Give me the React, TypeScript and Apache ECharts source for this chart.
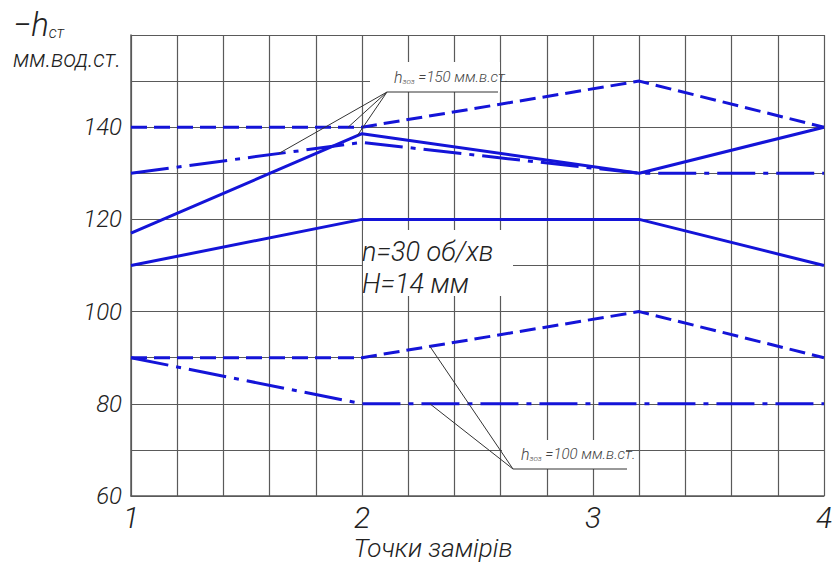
import React, { useEffect, useRef } from "react";
import * as echarts from "echarts";

// ---- data ----
const pointLabels = ["1", "2", "3", "4"];
const labelPositions = [0, 5, 10, 15];
const pointPositions = [0, 5, 11, 15];
const upperDashed = [140, 140, 150, 140];
const upperDashDot = [130, 136.7, 130, 130];
const upperSolid = [117, 138.6, 130, 140];
const middleSolid = [110, 120, 120, 110];
const lowerDashed = [90, 90, 100, 90];
const lowerDashDot = [90, 80, 80, 80];
const yTickLabels = [60, 80, 100, 120, 140];
// leader line targets (x index, value) for the two annotations
const leader150Targets = [
  [3.2, 134.3],
  [4.7, 140],
  [4.9, 138.2],
];
const leader100Targets = [
  [6.47, 92.45],
  [6.47, 80],
];

const BLUE = "#1414d8";
const GRID = "#5a5a5a";
const TXT = "#222";
const FONT = "Roboto, 'DejaVu Sans', sans-serif";
const DASHED = [16, 7];
const DASHDOT = [38, 8, 5, 8];

export default function App() {
  const ref = useRef<HTMLDivElement>(null);
  useEffect(() => {
    const chart = echarts.init(ref.current!, null, { renderer: "svg" });
    const mk = (vals: number[]) => vals.map((v, i) => [pointPositions[i], v]);
    const line = (name: string, vals: number[], type: any) => ({
      type: "line",
      name,
      data: mk(vals),
      symbol: "none",
      silent: true,
      z: 3,
      lineStyle: { color: BLUE, width: 3, type },
    });
    chart.setOption({
      animation: false,
      grid: { left: 131, right: 8, top: 35, bottom: 75, outerBoundsMode: "none", containLabel: false },
      xAxis: {
        type: "value",
        min: 0,
        max: 15,
        interval: 1,
        axisLine: { show: true, lineStyle: { color: GRID, width: 1.5 } },
        axisTick: { show: false },
        splitLine: { show: true, lineStyle: { color: GRID, width: 1.2 } },
        axisLabel: {
          showMinLabel: true,
          showMaxLabel: true,
          margin: 6,
          color: TXT,
          fontFamily: FONT,
          fontStyle: "italic",
          fontWeight: 300,
          fontSize: 30,
          formatter: (v: number) => {
            const i = labelPositions.indexOf(v);
            return i >= 0 ? pointLabels[i] : "";
          },
        },
      },
      yAxis: {
        type: "value",
        min: 60,
        max: 160,
        interval: 10,
        axisLine: { show: true, lineStyle: { color: GRID, width: 1.5 } },
        axisTick: { show: false },
        splitLine: { show: true, lineStyle: { color: GRID, width: 1.2 } },
        axisLabel: {
          showMinLabel: true,
          showMaxLabel: true,
          margin: 9,
          color: TXT,
          fontFamily: FONT,
          fontStyle: "italic",
          fontWeight: 300,
          fontSize: 24,
          formatter: (v: number) => (yTickLabels.includes(v) ? String(v) : ""),
        },
      },
      series: [
        line("upperDashed", upperDashed, DASHED),
        line("upperDashDot", upperDashDot, DASHDOT),
        line("upperSolid", upperSolid, "solid"),
        line("middleSolid", middleSolid, "solid"),
        line("lowerDashed", lowerDashed, DASHED),
        line("lowerDashDot", lowerDashDot, DASHDOT),
      ],
    });

    const px = (pt: number[]) => chart.convertToPixel({ gridIndex: 0 }, pt) as number[];
    const leader = (from: number[], to: number[]) => ({
      type: "line",
      silent: true,
      z: 10,
      shape: { x1: from[0], y1: from[1], x2: to[0], y2: to[1] },
      style: { stroke: "#333", lineWidth: 1 },
    });
    const txt = (text: string, x: number, y: number, size: number, extra: any = {}) => ({
      type: "text",
      silent: true,
      z: 12,
      x,
      y,
      style: {
        text,
        fill: extra.fill || TXT,
        font: `italic 300 ${size}px ${FONT}`,
        verticalAlign: "middle",
        align: extra.align || "left",
      },
    });
    const richTxt = (h: string, sub: string, rest: string, x: number, y: number, size: number, subSize: number, subDrop: number, fill: string) => ({
      type: "text",
      silent: true,
      z: 12,
      x,
      y,
      style: {
        text: `{a|${h}}{b|${sub}}{c|${rest}}`,
        verticalAlign: "middle",
        align: "left",
        rich: {
          a: { fontFamily: FONT, fontStyle: "italic", fontWeight: 300, fontSize: size, fill, color: fill },
          b: { fontFamily: FONT, fontStyle: "italic", fontWeight: 300, fontSize: subSize, fill, color: fill, padding: [subDrop * 2, 0, 0, 0] },
          c: { fontFamily: FONT, fontStyle: "italic", fontWeight: 300, fontSize: size - 1, fill, color: fill },
        },
      },
    });
    const box = (x: number, y: number, w: number, h: number) => ({
      type: "rect",
      silent: true,
      z: 9,
      shape: { x, y, width: w, height: h },
      style: { fill: "#fff" },
    });
    const o150 = [387, 92];
    const o100 = [513, 469];
    chart.setOption({
      graphic: [
        // axis caption
        richTxt("−h", "ст", "", 13, 24, 33, 16, 8, TXT),
        txt("мм.вод.ст.", 13, 59, 23),
        // x-axis caption
        txt("Точки замірів", 433, 548, 26, { align: "center" }),
        // middle note
        box(363, 230, 150, 66),
        txt("n=30 об/хв", 362, 252, 27),
        txt("H=14 мм", 362, 284, 27),
        // upper annotation
        box(370, 62, 130, 30),
        richTxt("h", "зоз", " =150 мм.в.ст.", 394, 77, 16, 8, 4, "#444"),
        { type: "line", silent: true, z: 10, shape: { x1: o150[0], y1: o150[1], x2: 498, y2: o150[1] }, style: { stroke: "#333", lineWidth: 1 } },
        ...leader150Targets.map((t) => leader(o150, px(t))),
        // lower annotation
        box(502, 440, 124, 29),
        richTxt("h", "зоз", " =100 мм.в.ст.", 521, 454, 16, 8, 4, "#444"),
        { type: "line", silent: true, z: 10, shape: { x1: o100[0], y1: o100[1], x2: 627, y2: o100[1] }, style: { stroke: "#333", lineWidth: 1 } },
        ...leader100Targets.map((t) => leader(o100, px(t))),
      ],
    });
    return () => chart.dispose();
  }, []);
  return (
    <div
      ref={ref}
      style={{ position: "absolute", left: 0, top: 0, width: 832, height: 571, background: "#fff" }}
    />
  );
}
